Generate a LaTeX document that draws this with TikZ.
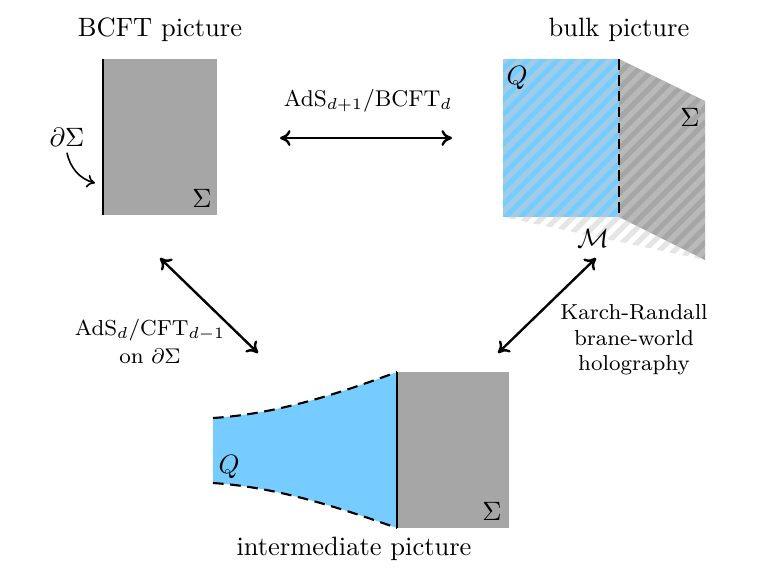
\documentclass[tikz,border=0pt]{standalone}
\usetikzlibrary{arrows.meta}
\definecolor{qblue}{HTML}{77CCFF}
\definecolor{sgray}{HTML}{A6A6A6}
\begin{document}
\begin{tikzpicture}[x=0.37736pt,y=-0.37736pt,
  conn/.style={{To[length=4pt,width=6pt]}-{To[length=4pt,width=6pt]},line width=0.9pt},
  lbl/.style={inner sep=0pt,align=center},
  small lbl/.style={inner sep=0pt,align=center,font=\fontsize{8.2}{9.6}\selectfont},
  edge/.style={line width=1.1pt},
  stripes/.style={gray!40,opacity=0.5,line width=2pt}]
\useasboundingbox (0,0) rectangle (763,572);

% ---------- BCFT picture ----------
\node[lbl] (t1) at (160,30) {BCFT picture};
\fill[sgray] (103,59) rectangle (217,215);
\draw[edge] (103,59) -- (103,215);
\node[lbl] (s1) at (202,198) {$\Sigma$};
\node[lbl] (ds) at (67,137) {$\partial\Sigma$};
\coordinate (dsend) at (95,183);
\draw[-{To[length=3pt,width=5pt]},line width=0.6pt] (ds.south) ++(0,6) .. controls (70,168) and (80,179) .. (dsend);

% ---------- bulk picture ----------
\node[lbl] (t2) at (619,30) {bulk picture};
\fill[qblue] (503,59) rectangle (619,217);
\fill[sgray] (619,59) -- (705,101) -- (705,260) -- (619,217) -- cycle;
\begin{scope}
  \clip (503,59) -- (619,59) -- (705,101) -- (705,260) -- (503,217) -- cycle;
  \foreach \i in {255,270,...,840} {
    \draw[stripes] (\i+220,0) -- (\i-80,300);
  }
\end{scope}
\draw[edge,dashed,dash pattern=on 4pt off 2pt] (619,59) -- (619,217);
\node[lbl] (q2) at (517,78) {$Q$};
\node[lbl] (s2) at (690,117) {$\Sigma$};
\node[lbl] (m2) at (593,238) {$\mathcal{M}$};

% ---------- intermediate picture ----------
\fill[sgray] (397,372) rectangle (509,528);
\fill[qblue] (213,418) .. controls (275,414) and (335,395) .. (397,372) -- (397,528)
  .. controls (335,506) and (275,487) .. (213,483) -- cycle;
\draw[line width=0.8pt,dashed,dash pattern=on 4pt off 2.5pt] (213,418) .. controls (275,414) and (335,395) .. (397,372);
\draw[line width=0.8pt,dashed,dash pattern=on 4pt off 2.5pt] (213,483) .. controls (275,487) and (335,506) .. (397,528);
\draw[edge] (397,372) -- (397,528);
\node[lbl] (q3) at (229,467) {$Q$};
\node[lbl] (s3) at (492,511) {$\Sigma$};
\node[lbl] (t3) at (354,549) {intermediate picture};

% ---------- connectors ----------
\coordinate (h1) at (280,138);
\coordinate (h2) at (452,138);
\draw[conn] (h1) -- (h2);
\node[lbl,font=\fontsize{8.6}{10}\selectfont] (l1) at (368,101) {AdS$_{d+1}$/BCFT$_d$};

\coordinate (a1) at (160,258);
\coordinate (a2) at (258,353);
\draw[conn] (a1) -- (a2);
\node[small lbl] (l2) at (150,341) {AdS$_d$/CFT$_{d-1}$\\[1pt] on $\partial\Sigma$};

\coordinate (b1) at (596,258);
\coordinate (b2) at (498,353);
\draw[conn] (b1) -- (b2);
\node[small lbl] (l3) at (634,340) {Karch-Randall\\[0pt] brane-world\\[0pt] holography};
\end{tikzpicture}
\end{document}
